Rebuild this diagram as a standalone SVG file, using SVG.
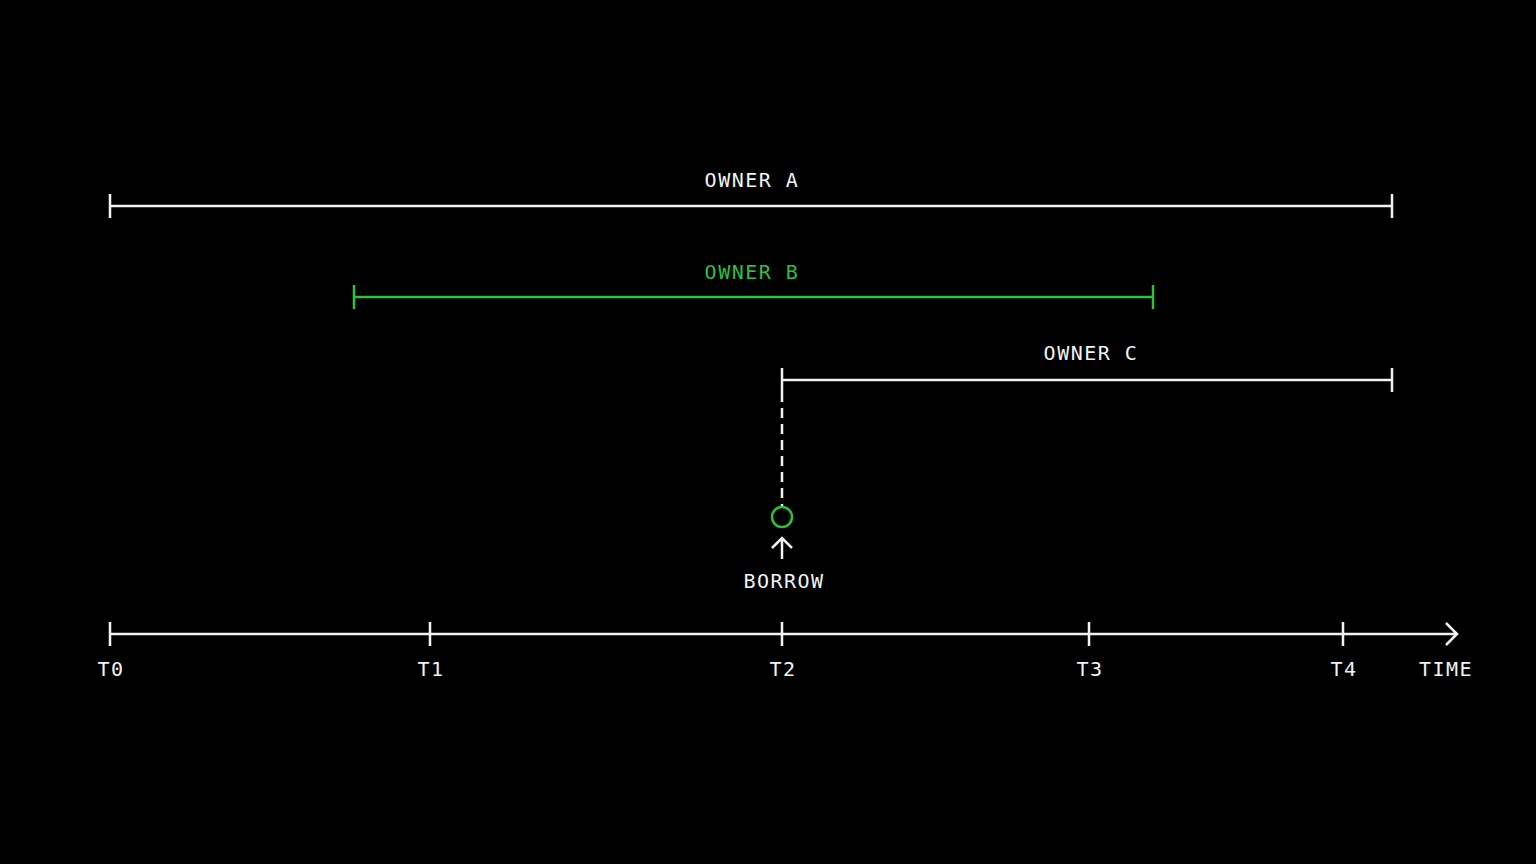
<svg xmlns="http://www.w3.org/2000/svg" width="1536" height="864" viewBox="0 0 1536 864">
<style>
.t{font-family:"DejaVu Sans Mono","Liberation Mono",monospace;font-size:20px;text-anchor:middle;fill:#f2f2f2;letter-spacing:1.5px}
.g{fill:#2fbf3a}
.w{stroke:#f2f2f2;stroke-width:2.5;fill:none}
.gs{stroke:#2fbf3a;stroke-width:2.5;fill:none}
</style>
<rect width="1536" height="864" fill="#000"/>
<g id="ownerA">
<path class="w" d="M110 206H1392M110 194V218M1392 194V218"/>
<text class="t" x="752" y="187">OWNER A</text>
</g>
<g id="ownerB">
<path class="gs" d="M354 297H1153M354 285V309M1153 285V309"/>
<text class="t g" x="752" y="279">OWNER B</text>
</g>
<g id="ownerC">
<path class="w" d="M782 380H1392M782 368V392M1392 368V392"/>
<text class="t" x="1091" y="360">OWNER C</text>
</g>
<g id="borrow">
<circle cx="782" cy="517" r="10" class="gs"/>
<text class="t" x="784" y="588">BORROW</text>
</g>
<g id="connectors">
<path class="w" d="M782 392V506" stroke-dasharray="10 6"/>
<path class="w" d="M782 559V538M772 548L782 538L792 548"/>
</g>
<g id="axis">
<path class="w" d="M110 634H1457M1446 623L1457 634L1446 645"/>
<path class="w" d="M110 622V646M430 622V646M782 622V646M1089 622V646M1343 622V646"/>
<text class="t" x="111" y="676">T0</text>
<text class="t" x="431" y="676">T1</text>
<text class="t" x="783" y="676">T2</text>
<text class="t" x="1090" y="676">T3</text>
<text class="t" x="1344" y="676">T4</text>
<text class="t" x="1446" y="676">TIME</text>
</g>
</svg>
